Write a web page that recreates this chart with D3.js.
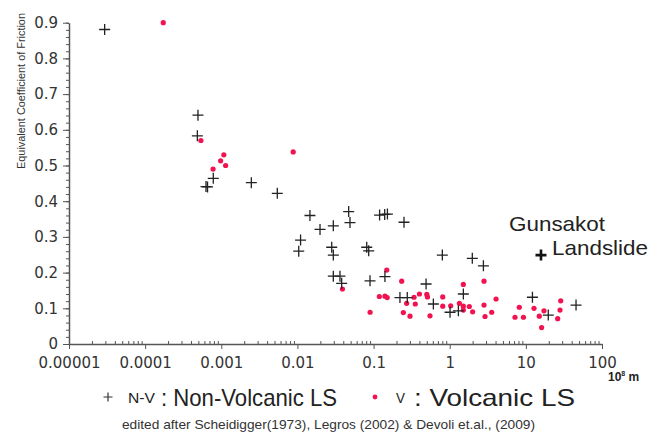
<!DOCTYPE html>
<html>
<head>
<meta charset="utf-8">
<script src="https://cdn.jsdelivr.net/npm/d3@7"></script>
<style>
  body { margin: 0; background: #fff; }
  svg { display: block; }
  .axis path, .axis line { stroke: #555; }
  .axis text { fill: #333; font-family: "DejaVu Sans", sans-serif; font-size: 15px; }
</style>
</head>
<body>
<script>
var w = 662,
    h = 432;

// non-volcanic landslides: volume (10^6 m3) and equivalent coefficient of friction
var nvVolume = [2.94e-5, 4.94e-4, 4.85e-4, 7.85e-4, 6.3e-4, 6.6e-4, 2.48e-3, 5.44e-3,
  0.0146, 0.0198, 0.0110, 0.0104, 0.0296, 0.0471, 0.049, 0.0282, 0.0296, 0.0813, 0.0863,
  0.12, 0.14, 0.152, 0.251, 0.0296, 0.0362, 0.0381, 0.0898, 0.141, 0.222, 0.277, 0.489,
  0.80, 1.98, 2.77, 1.51, 0.61, 1.01, 1.30, 12.2, 19.7, 45.6];
var nvFriction = [0.881, 0.641, 0.583, 0.464, 0.441, 0.44, 0.452, 0.422,
  0.360, 0.321, 0.291, 0.260, 0.331, 0.371, 0.340, 0.271, 0.249, 0.271, 0.261,
  0.361, 0.363, 0.364, 0.341, 0.190, 0.190, 0.170, 0.177, 0.189, 0.130, 0.130, 0.168,
  0.249, 0.240, 0.219, 0.140, 0.112, 0.089, 0.093, 0.131, 0.081, 0.109];

// volcanic landslides
var vVolume = [1.73e-4, 5.4e-4, 7.8e-4, 9.8e-4, 1.08e-3, 1.14e-3, 8.8e-3, 0.039, 0.149,
  0.234, 0.119, 0.141, 0.151, 0.090, 0.272, 0.34, 0.353, 0.40, 0.50, 0.51, 0.246, 0.301,
  0.551, 0.81, 0.81, 1.03, 1.34, 1.51, 1.51, 1.51, 1.81, 2.00, 2.82, 2.82, 2.91, 3.56,
  4.06, 7.2, 8.2, 9.3, 12.8, 15.0, 17.3, 16.1, 26.2, 28.1, 28.7];
var vFriction = [0.90, 0.57, 0.49, 0.513, 0.53, 0.50, 0.538, 0.154, 0.207,
  0.176, 0.133, 0.134, 0.130, 0.089, 0.114, 0.131, 0.112, 0.140, 0.139, 0.132, 0.088, 0.078,
  0.079, 0.132, 0.106, 0.107, 0.114, 0.167, 0.106, 0.095, 0.105, 0.090, 0.176, 0.109, 0.077, 0.089,
  0.126, 0.075, 0.103, 0.075, 0.100, 0.078, 0.093, 0.046, 0.071, 0.095, 0.121];

var gunsakot = [15.8, 0.249];

var xTicks = [1e-5, 1e-4, 1e-3, 1e-2, 0.1, 1, 10, 100];
var xTickLabels = ["0.00001", "0.0001", "0.001", "0.01", "0.1", "1", "10", "100"];
var yTicks = [0, 0.1, 0.2, 0.3, 0.4, 0.5, 0.6, 0.7, 0.8, 0.9];
var yTickLabels = ["0", "0.1", "0.2", "0.3", "0.4", "0.5", "0.6", "0.7", "0.8", "0.9"];

var svg = d3.select("body").append("svg")
  .attr("width", w)
  .attr("height", h);

var x = d3.scaleLog().domain([1e-5, 100]).range([69, 602]);
var y = d3.scaleLinear().domain([0, 0.9]).range([344, 22.7]);

// minor ticks
var xMinor = [];
xTicks.slice(0, -1).forEach(function(t) {
  for (var k = 2; k < 10; k++) xMinor.push(t * k);
});
var yMinor = d3.range(0, 0.9001, 0.02);

svg.append("g")
  .attr("class", "axis")
  .attr("transform", "translate(0,344)")
  .call(d3.axisBottom(x).tickValues(xMinor).tickSize(-3).tickFormat(""))
  .call(function(g) { g.select(".domain").remove(); });

svg.append("g")
  .attr("class", "axis")
  .attr("transform", "translate(69,0)")
  .call(d3.axisLeft(y).tickValues(yMinor).tickSize(3).tickFormat(""))
  .call(function(g) { g.select(".domain").remove(); });

svg.append("g")
  .attr("class", "axis")
  .attr("transform", "translate(0,344)")
  .call(d3.axisBottom(x).tickValues(xTicks).tickSizeInner(5).tickSizeOuter(0).tickPadding(8)
    .tickFormat(function(d, i) { return xTickLabels[i]; }))
  .call(function(g) { g.select(".domain").attr("stroke-width", 1.5); });

svg.append("g")
  .attr("class", "axis")
  .attr("transform", "translate(69,0)")
  .call(d3.axisLeft(y).tickValues(yTicks).tickSizeInner(6).tickSizeOuter(0).tickPadding(5)
    .tickFormat(function(d, i) { return yTickLabels[i]; }))
  .call(function(g) { g.select(".domain").attr("stroke-width", 1.5); });

// axis titles
svg.append("text")
  .attr("transform", "translate(25,91) rotate(-90)")
  .attr("text-anchor", "middle")
  .attr("textLength", 156)
  .attr("lengthAdjust", "spacingAndGlyphs")
  .style("font-family", "Liberation Sans, sans-serif")
  .style("font-size", "10px")
  .style("fill", "#333")
  .text("Equivalent Coefficient of Friction");

var unit = svg.append("text")
  .attr("x", 608)
  .attr("y", 381)
  .style("font-family", "Liberation Sans, sans-serif")
  .style("font-weight", "bold")
  .style("font-size", "12px")
  .style("fill", "#222");
unit.append("tspan").text("10");
unit.append("tspan").attr("dy", -5).style("font-size", "7px").text("8");
unit.append("tspan").attr("dy", 5).text(" m");

var cross = function(sel, s) {
  return sel.attr("d", "M" + (-s) + ",0H" + s + "M0," + (-s) + "V" + s);
};

// volcanic points
svg.selectAll("circle.v")
  .data(vVolume)
  .enter()
  .append("circle")
  .attr("class", "v")
  .attr("cx", function(d) { return x(d); })
  .attr("cy", function(d, i) { return y(vFriction[i]); })
  .attr("r", 2.6)
  .style("fill", "#f2124f");

// non-volcanic points
svg.selectAll("path.nv")
  .data(nvVolume)
  .enter()
  .append("path")
  .attr("class", "nv")
  .call(cross, 5.5)
  .attr("transform", function(d, i) { return "translate(" + x(d) + "," + y(nvFriction[i]) + ")"; })
  .style("stroke", "#222")
  .style("stroke-width", 1.3)
  .style("fill", "none");

svg.append("path")
  .call(cross, 5.5)
  .attr("transform", "translate(" + x(gunsakot[0]) + "," + y(gunsakot[1]) + ")")
  .style("stroke", "#111")
  .style("stroke-width", 2.6);

svg.append("text")
  .attr("x", 509).attr("y", 231)
  .attr("textLength", 96).attr("lengthAdjust", "spacingAndGlyphs")
  .style("font-family", "Liberation Sans, sans-serif")
  .style("font-size", "21px").style("fill", "#222")
  .text("Gunsakot");
svg.append("text")
  .attr("x", 552).attr("y", 254.5)
  .attr("textLength", 96).attr("lengthAdjust", "spacingAndGlyphs")
  .style("font-family", "Liberation Sans, sans-serif")
  .style("font-size", "21px").style("fill", "#222")
  .text("Landslide");

// legend
svg.append("path")
  .call(cross, 4.5)
  .attr("transform", "translate(108,397)")
  .style("stroke", "#333")
  .style("stroke-width", 1.2);

svg.append("text")
  .attr("x", 128).attr("y", 403)
  .attr("textLength", 27).attr("lengthAdjust", "spacingAndGlyphs")
  .style("font-family", "Liberation Sans, sans-serif")
  .style("font-size", "14px").style("fill", "#222")
  .text("N-V");
svg.append("text")
  .attr("x", 161).attr("y", 406)
  .attr("textLength", 176).attr("lengthAdjust", "spacingAndGlyphs")
  .style("font-family", "Liberation Sans, sans-serif")
  .style("font-size", "24px").style("fill", "#222")
  .text(": Non-Volcanic LS");

svg.append("circle")
  .attr("cx", 375).attr("cy", 397).attr("r", 2.4)
  .style("fill", "#f2124f");
svg.append("text")
  .attr("x", 396).attr("y", 403)
  .attr("textLength", 9).attr("lengthAdjust", "spacingAndGlyphs")
  .style("font-family", "Liberation Sans, sans-serif")
  .style("font-size", "14px").style("fill", "#222")
  .text("V");
svg.append("text")
  .attr("x", 414).attr("y", 406)
  .attr("textLength", 161).attr("lengthAdjust", "spacingAndGlyphs")
  .style("font-family", "Liberation Sans, sans-serif")
  .style("font-size", "24px").style("fill", "#222")
  .text(":  Volcanic LS");

svg.append("text")
  .attr("x", 122).attr("y", 429)
  .attr("textLength", 413).attr("lengthAdjust", "spacingAndGlyphs")
  .style("font-family", "Liberation Sans, sans-serif")
  .style("font-size", "13.5px").style("fill", "#333")
  .text("edited after  Scheidigger(1973),  Legros (2002) & Devoli et.al., (2009)");
</script>
</body>
</html>
